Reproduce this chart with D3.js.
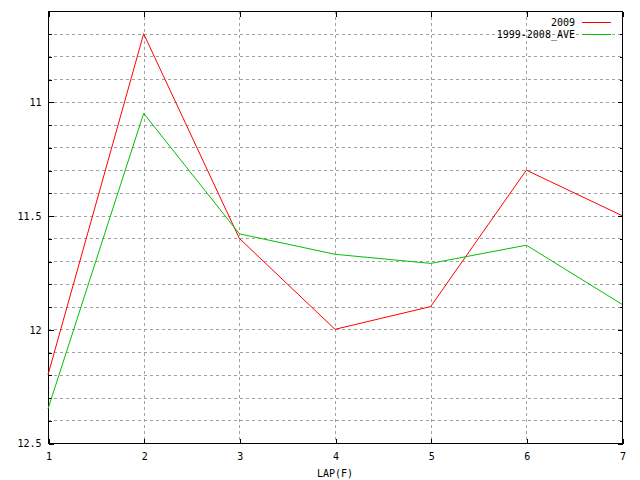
<!DOCTYPE html>
<html>
<head>
<meta charset="utf-8">
<script src="https://cdn.jsdelivr.net/npm/d3@7"></script>
<style>
  html, body { margin: 0; padding: 0; background: #fff; }
  svg { display: block; }
  text { font-family: "DejaVu Sans Mono", "Liberation Mono", monospace; font-size: 10px; fill: #000; }
</style>
</head>
<body>
<svg id="chart" width="640" height="480"></svg>
<script>
// ---- data ----
const laps = [1, 2, 3, 4, 5, 6, 7];
const values2009 = [12.2, 10.7, 11.6, 12.0, 11.9, 11.3, 11.5];
const valuesAve = [12.35, 11.05, 11.58, 11.67, 11.71, 11.63, 11.89];
const seriesNames = ["2009", "1999-2008_AVE"];
const seriesColors = ["#ff0000", "#00c000"];
const yMajorTicks = [11, 11.5, 12, 12.5];
const yMinorTicks = [10.7, 10.8, 10.9, 11.1, 11.2, 11.3, 11.4, 11.6, 11.7, 11.8, 11.9, 12.1, 12.2, 12.3, 12.4];
const xTicks = [1, 2, 3, 4, 5, 6, 7];
const xLabel = "LAP(F)";

// ---- layout ----
const L = 48, R = 622, T = 11, B = 443;
const svg = d3.select("#chart");
const x = d3.scaleLinear().domain([1, 7]).range([L, R]);
const y = d3.scaleLinear().domain([10.6, 12.5]).range([T, B]);
const px = v => Math.round(v) + 0.5;

// grid
const grid = svg.append("g").attr("stroke", "#a0a0a0").attr("stroke-width", 1)
  .attr("stroke-dasharray", "3,3").attr("shape-rendering", "crispEdges");
grid.selectAll("line.h").data(yMinorTicks.concat([11, 11.5, 12])).enter().append("line")
  .attr("x1", L).attr("x2", R).attr("y1", d => px(y(d))).attr("y2", d => px(y(d)));
grid.selectAll("line.v").data(xTicks.filter(d => d > 1 && d < 7)).enter().append("line")
  .attr("y1", T).attr("y2", B).attr("x1", d => px(x(d))).attr("x2", d => px(x(d)));

// axes (ticks inward)
svg.append("g").attr("transform", `translate(${L + 0.5},0.5)`)
  .call(d3.axisLeft(y).tickValues(yMajorTicks).tickSize(-5).tickPadding(7).tickFormat(d3.format("")));
svg.append("g").attr("transform", `translate(${L + 0.5},0.5)`)
  .call(d3.axisLeft(y).tickValues(yMinorTicks).tickSize(-3).tickFormat(""));
svg.append("g").attr("transform", `translate(${R + 0.5},0.5)`)
  .call(d3.axisRight(y).tickValues(yMajorTicks).tickSize(-5).tickFormat(""));
svg.append("g").attr("transform", `translate(${R + 0.5},0.5)`)
  .call(d3.axisRight(y).tickValues(yMinorTicks).tickSize(-3).tickFormat(""));
svg.append("g").attr("transform", `translate(0.5,${B + 0.5})`)
  .call(d3.axisBottom(x).tickValues(xTicks).tickSize(-5).tickPadding(9).tickFormat(d3.format("d")));
svg.append("g").attr("transform", `translate(0.5,${T + 0.5})`)
  .call(d3.axisTop(x).tickValues(xTicks).tickSize(-5).tickFormat(""));

svg.selectAll(".domain").remove();
svg.selectAll(".tick line").attr("stroke", "#000").attr("shape-rendering", "crispEdges");
svg.selectAll(".tick text").attr("font-family", "DejaVu Sans Mono").attr("font-size", 10).attr("fill", "#000");

// border
svg.append("rect").attr("x", L + 0.5).attr("y", T + 0.5).attr("width", R - L).attr("height", B - T)
  .attr("fill", "none").attr("stroke", "#000").attr("stroke-width", 1).attr("shape-rendering", "crispEdges");

// lines
const line = d3.line().x((d, i) => x(laps[i])).y(d => y(d));
[values2009, valuesAve].forEach((vals, i) => {
  svg.append("path").datum(vals).attr("d", line).attr("fill", "none")
    .attr("stroke", seriesColors[i]).attr("stroke-width", 1);
});

// x label
svg.append("text").attr("x", (L + R) / 2).attr("y", 477).attr("text-anchor", "middle").text(xLabel);

// legend
seriesNames.forEach((name, i) => {
  const yy = 22 + i * 12;
  svg.append("text").attr("x", 575).attr("y", yy + 4).attr("text-anchor", "end").text(name);
  svg.append("line").attr("x1", 582).attr("x2", 611).attr("y1", yy + 0.5).attr("y2", yy + 0.5)
    .attr("stroke", seriesColors[i]).attr("stroke-width", 1).attr("shape-rendering", "crispEdges");
});
</script>
</body>
</html>
